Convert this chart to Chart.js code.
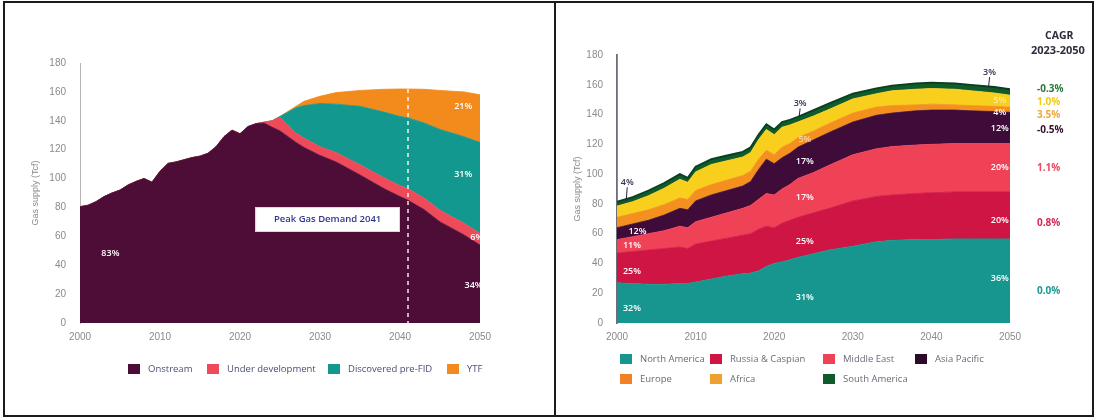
<!DOCTYPE html>
<html>
<head>
<meta charset="utf-8">
<script src="https://cdn.jsdelivr.net/npm/chart.js@4.4.1/dist/chart.umd.min.js"></script>
<style>
html, body { margin: 0; padding: 0; background: #fff; }
#page { position: relative; width: 1096px; height: 419px; overflow: hidden; font-family: 'Open Sans', sans-serif; }
#page canvas { position: absolute; top: 0; }
#left { left: 0; }
#right { left: 555px; }
.frame { position: absolute; left: 3px; top: 1px; width: 1087px; height: 412px; border: 2px solid #1b1b1b; pointer-events: none; }
.divider { position: absolute; left: 554px; top: 1px; width: 2px; height: 416px; background: #1b1b1b; }
.cover { position: absolute; left: 1094px; top: 0; width: 2px; height: 419px; background: #fff; }
.lg { position: absolute; display: flex; align-items: center; font-size: 9.5px; white-space: nowrap; }
.lg i { display: inline-block; width: 12px; height: 10px; margin-right: 8px; }
.cagr { position: absolute; font-size: 10px; font-weight: 700; white-space: nowrap; }
</style>
</head>
<body>
<div id="page">
  <canvas id="left" width="555" height="419"></canvas>
  <canvas id="right" width="541" height="419"></canvas>
  <div id="legends"></div>
  <div class="cagr" style="left:1045px;top:28px;color:#2d2d3d;font-size:10.5px;">CAGR</div>
  <div class="cagr" style="left:1031px;top:42px;color:#2d2d3d;font-size:11px;">2023-2050</div>
  <div id="cagrVals"></div>
  <div class="cover"></div>
  <div class="frame"></div>
  <div class="divider"></div>
</div>
<script>
// ---- LEFT: supply by maturity ----
const yearsL = [2000,2001,2002,2003,2004,2005,2006,2007,2008,2009,2010,2011,2012,2013,2014,2015,2016,2017,2018,2019,2020,2021,2022,2023,2024,2025,
                2027,2028,2030,2032,2035,2038,2040,2041,2043,2045,2048,2050];
const onstream   = [80.5,81.5,84,87.5,90,92,95.5,98,100,97.5,105,110.5,111.5,113,114.5,115.5,117.5,122,129,133.5,131,136,138,138.5,135.5,133,
                    125,121.5,116,111.5,102.5,93,87.5,85,78.5,70,61,54];
const underDev   = [0,0,0,0,0,0,0,0,0,0,0,0,0,0,0,0,0,0,0,0,0,0,0,0.5,4.5,9.5,
                    6.5,6.5,6,6.5,7,7.5,7.5,8,8,8,8,8];
const preFid     = [0,0,0,0,0,0,0,0,0,0,0,0,0,0,0,0,0,0,0,0,0,0,0,0,0,0.5,
                    17.5,22.5,30,33.5,40.5,45.5,48,49,52,56,60,63];
const ytf        = [0,0,0,0,0,0,0,0,0,0,0,0,0,0,0,0,0,0,0,0,0,0,0,0,0,0,
                    1,3,5,8,11,15.8,19,20,23.3,27,31,33];
const namesL  = ["Onstream", "Under development", "Discovered pre-FID", "YTF"];
const colorsL = ["#4d0d37", "#ef4a5a", "#13988f", "#f38a1c"];
const seriesL = [onstream, underDev, preFid, ytf];

// ---- RIGHT: supply by region ----
const yearsR = [2000,2002,2004,2006,2008,2009,2010,2012,2014,2016,2017,2018,2019,2020,2021,2022,2023,2025,2027,2030,2033,2035,2038,2040,2043,2045,2048,2050];
const northAmerica = [27,26.5,26,26,26.5,26.5,27.5,29.5,31.5,33,33.5,35,38,40,41,42.5,44,46.5,49,51.5,54.5,55.5,56,56,56.5,56.5,56.5,56.5];
const russiaCasp   = [20,21.5,23,24,24.5,23.5,25.5,25.5,25.5,26,26.5,28,27,24,26,26.5,27,27.5,28,30.5,30.5,30.5,31,31.5,31.5,31.5,31.5,31.5];
const middleEast   = [9,10,11,12,14,14,15,16,17,18,19,20,22,22,23,24,26,27,29,31,32,32.5,32.5,32.5,32.5,32.5,32.5,32.5];
const asiaPacific  = [8,8.5,9,10.5,12,12,14,15,15,15,16,20,23,21,21,21,21,22,22,22,22.5,22.5,23,23,22.5,22,21.5,21];
const europe       = [7,7,7,7,7,7,7,7,7,7,7,7,6,6,7,6.5,6.5,6,6,6,5.5,5,4,4,3.5,3.5,3.5,3.5];
const africa       = [7.5,8,9.5,11,12.5,11.5,12.5,13.5,13,12.5,12.5,13,14,13.5,13.5,12.5,10.5,10,9.5,9.5,9,10,10.5,10.5,10.5,10,9,8];
const southAmerica = [3,3,3.5,3.5,3.5,3,3.5,3.5,3.5,3.5,3.5,3.5,3.5,3.5,3.5,3.5,3.5,4,4,3.5,3.6,3.5,4,3.9,4,4,4,4];
const namesR  = ["North America", "Russia & Caspian", "Middle East", "Asia Pacific", "Europe", "Africa", "South America"];
const colorsR = ["#17968f", "#cf1543", "#ef4257", "#3f0c3a", "#f4901e", "#f8cf1c", "#0f5b2c"];
const legendColorsR = ["#17968f", "#cf1543", "#ef4257", "#2e0a2a", "#f08224", "#f0a030", "#0f5b2c"];
const seriesR = [northAmerica, russiaCasp, middleEast, asiaPacific, europe, africa, southAmerica];

const cagrTexts  = ["-0.3%", "1.0%", "3.5%", "-0.5%", "1.1%", "0.8%", "0.0%"];
const cagrColors = ["#2a7a3a", "#f2cc10", "#f0a838", "#3a1030", "#ef4a5e", "#d62a52", "#1a9a8e"];

// in-chart percentage labels (x = year, y = Tcf)
const labelsL = [
  {x: 2003.8, y: 48.5, t: "83%"}, {x: 2047.9, y: 149.6, t: "21%"}, {x: 2047.9, y: 103, t: "31%"},
  {x: 2049.6, y: 59.5, t: "6%"}, {x: 2049.2, y: 26.3, t: "34%"}
];
const labelsR = [
  {x: 2001.9, y: 10.1, t: "32%"}, {x: 2001.9, y: 34.3, t: "25%"}, {x: 2001.9, y: 52.4, t: "11%"}, {x: 2002.6, y: 61.8, t: "12%"},
  {x: 2023.9, y: 17.5, t: "31%"}, {x: 2023.9, y: 55, t: "25%"}, {x: 2023.9, y: 84, t: "17%"}, {x: 2023.9, y: 108.8, t: "17%"},
  {x: 2023.9, y: 123, t: "5%", c: "rgba(255,255,255,0.6)"},
  {x: 2048.7, y: 30.2, t: "36%"}, {x: 2048.7, y: 69.2, t: "20%"}, {x: 2048.7, y: 104.8, t: "20%"}, {x: 2048.7, y: 131, t: "12%"},
  {x: 2048.7, y: 141.7, t: "4%"}, {x: 2048.7, y: 149.8, t: "5%", c: "rgba(255,255,255,0.6)"},
  {x: 2001.3, y: 94.5, t: "4%", c: "#3a3050", to: 82}, {x: 2023.3, y: 147.5, t: "3%", c: "#3a3050", to: 138.5},
  {x: 2047.4, y: 168.5, t: "3%", c: "#3a3050", to: 158.5}
];

const areaLabels = {
  id: "areaLabels",
  afterDatasetsDraw(chart, args, opts) {
    const {ctx, scales: {x, y}} = chart;
    ctx.save();
    ctx.textAlign = "center";
    ctx.textBaseline = "middle";
    // peak line + box
    if (opts.peak) {
      const p = opts.peak;
      const px = x.getPixelForValue(p.year);
      ctx.strokeStyle = "rgba(255,255,255,0.9)";
      ctx.lineWidth = 1.5;
      ctx.setLineDash([4, 4]);
      ctx.beginPath();
      ctx.moveTo(px, y.getPixelForValue(p.top));
      ctx.lineTo(px, y.getPixelForValue(0));
      ctx.stroke();
      ctx.setLineDash([]);
      const bx0 = x.getPixelForValue(p.box[0]), bx1 = x.getPixelForValue(p.box[1]);
      const by0 = y.getPixelForValue(p.box[3]), by1 = y.getPixelForValue(p.box[2]);
      ctx.fillStyle = "#ffffff";
      ctx.fillRect(bx0, by0, bx1 - bx0, by1 - by0);
      ctx.strokeStyle = "#d8d8e0";
      ctx.lineWidth = 1;
      ctx.strokeRect(bx0 + 0.5, by0 + 0.5, bx1 - bx0 - 1, by1 - by0 - 1);
      ctx.fillStyle = "#2a3890";
      ctx.font = "600 9.5px 'Open Sans', sans-serif";
      ctx.fillText(p.text, (bx0 + bx1) / 2, (by0 + by1) / 2);
    }
    ctx.font = "600 9px 'Open Sans', sans-serif";
    (opts.items || []).forEach(it => {
      const px = x.getPixelForValue(it.x), py = y.getPixelForValue(it.y);
      if (it.to != null) {
        ctx.strokeStyle = "#2a2040";
        ctx.lineWidth = 1;
        ctx.beginPath();
        ctx.moveTo(px, py + 5);
        ctx.lineTo(px - 1, y.getPixelForValue(it.to));
        ctx.stroke();
      }
      ctx.fillStyle = it.c || "#ffffff";
      ctx.fillText(it.t, px, py);
    });
    ctx.restore();
  }
};

function makeDatasets(years, series, names, colors) {
  return series.map((vals, i) => {
    const isSA = names[i] === "South America";
    return {
      label: names[i],
      data: years.map((yr, k) => ({x: yr, y: vals[k]})),
      backgroundColor: colors[i],
      borderColor: isSA ? "#0a3f1f" : colors[i],
      borderWidth: isSA ? 1.8 : 0.8,
      pointRadius: 0,
      tension: 0,
      fill: i === 0 ? "origin" : "-1"
    };
  });
}

function makeOptions(cfg) {
  return {
    responsive: false,
    animation: false,
    layout: {padding: cfg.padding},
    plugins: {
      legend: {display: false},
      tooltip: {enabled: false},
      areaLabels: {items: cfg.labels, peak: cfg.peak}
    },
    scales: {
      x: {
        type: "linear", min: 2000, max: 2050,
        grid: {display: false, drawTicks: false},
        border: {display: false},
        ticks: {stepSize: 10, color: "#8a8a8a", font: {size: 10}, padding: 8, maxRotation: 0, callback: v => String(v)},
        afterFit: s => { s.height = 20; }
      },
      y: {
        stacked: true, min: 0, max: 180,
        grid: {display: false, drawTicks: false},
        border: {display: true, color: cfg.axisColor, width: cfg.axisWidth},
        ticks: {stepSize: 20, color: "#8a8a8a", font: {size: 10}, padding: 14},
        title: {display: true, text: "Gas supply (Tcf)", color: "#8a8a8a", font: {size: 9}, padding: {top: 0, bottom: 0}},
        afterFit: s => { s.width = cfg.yWidth; }
      }
    }
  };
}

new Chart(document.getElementById("left"), {
  type: "line",
  data: {datasets: makeDatasets(yearsL, seriesL, namesL, colorsL)},
  options: makeOptions({
    padding: {left: 30, right: 75, top: 63, bottom: 76}, yWidth: 50,
    axisColor: "#b5b5b5", axisWidth: 1, labels: labelsL,
    peak: {year: 2041, top: 162, box: [2021.9, 2040, 63, 80.3], text: "Peak Gas Demand 2041"}
  }),
  plugins: [areaLabels]
});

new Chart(document.getElementById("right"), {
  type: "line",
  data: {datasets: makeDatasets(yearsR, seriesR, namesR, colorsR)},
  options: makeOptions({
    padding: {left: 17, right: 86, top: 55, bottom: 76}, yWidth: 45,
    axisColor: "#6d6d7a", axisWidth: 1.8, labels: labelsR
  }),
  plugins: [areaLabels]
});

// legends
const lgHost = document.getElementById("legends");
function addLegend(name, color, left, top, textColor) {
  const d = document.createElement("div");
  d.className = "lg";
  d.style.left = left + "px";
  d.style.top = (top - 6) + "px";
  d.style.color = textColor;
  d.innerHTML = '<i style="background:' + color + '"></i>' + name;
  lgHost.appendChild(d);
}
const lgLeftX = [128, 207, 328, 447];
namesL.forEach((n, i) => addLegend(n, colorsL[i], lgLeftX[i], 368, "#4a4f72"));
const lgRightX = [620, 710, 823, 915, 620, 710, 823];
const lgRightY = [358, 358, 358, 358, 378, 378, 378];
namesR.forEach((n, i) => addLegend(n, legendColorsR[i], lgRightX[i], lgRightY[i], "#6a6a78"));

// CAGR column
const cagrY = [88, 101, 114, 129, 167, 222, 290];
const cv = document.getElementById("cagrVals");
cagrTexts.forEach((t, i) => {
  const d = document.createElement("div");
  d.className = "cagr";
  d.style.left = "1037px";
  d.style.top = (cagrY[i] - 7) + "px";
  d.style.color = cagrColors[i];
  d.textContent = t;
  cv.appendChild(d);
});
</script>
</body>
</html>
